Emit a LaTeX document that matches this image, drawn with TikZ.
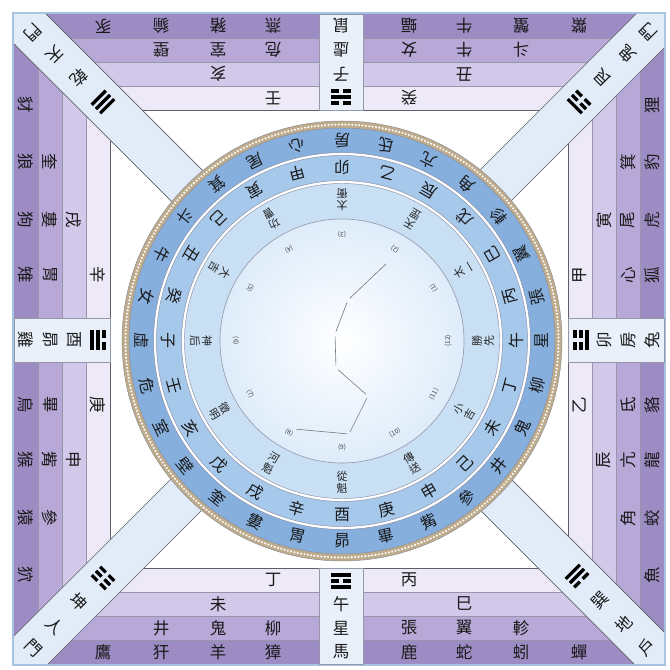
\documentclass[tikz,border=0pt]{standalone}
\usepackage{fontspec}
\newfontfamily\cjk{Noto Sans CJK TC}
\usetikzlibrary{calc}
\definecolor{rowA}{RGB}{237,233,246}
\definecolor{rowB}{RGB}{210,200,233}
\definecolor{rowC}{RGB}{184,168,216}
\definecolor{rowD}{RGB}{157,139,195}
\definecolor{stripc}{RGB}{226,236,248}
\definecolor{boxc}{RGB}{234,240,250}
\definecolor{ringO}{RGB}{134,175,221}
\definecolor{ringM}{RGB}{166,200,235}
\definecolor{ringI}{RGB}{200,223,244}
\definecolor{discc}{RGB}{222,236,250}
\definecolor{rimc}{RGB}{190,172,140}
\definecolor{edgec}{RGB}{95,95,105}
\definecolor{sepc}{RGB}{150,150,170}
\definecolor{framec}{RGB}{165,195,225}
\newcounter{lbl}
\newcommand{\lab}[4]{\stepcounter{lbl}\node[lab,rotate=#3] (t\arabic{lbl}) at (#1,{670-#2}) {#4};}
\newcommand{\tribar}[2]{\ifnum#2=1 \fill (-10,{#1-1.6}) rectangle (10,{#1+1.6});\else\fill (-10,{#1-1.6}) rectangle (-2,{#1+1.6});\fill (2,{#1-1.6}) rectangle (10,{#1+1.6});\fi}
\newcommand{\trig}[6]{\begin{scope}[shift={(#1,{670-#2})},rotate=#3]\tribar{-6}{#4}\tribar{0}{#5}\tribar{6}{#6}\end{scope}}
\tikzset{
  lab/.style={font=\cjk\fontsize{16.5}{16.5}\selectfont, inner sep=0pt, text=black!90},
  ringlab/.style={font=\cjk\fontsize{16}{16}\selectfont, inner sep=0pt, text=black!90},
  smalllab/.style={font=\cjk\fontsize{11}{12}\selectfont, inner sep=0pt, align=center, text=black!85},
  numlab/.style={font=\cjk\fontsize{6.5}{6.5}\selectfont, inner sep=0pt, text=black!75},
  rowline/.style={draw=sepc, line width=0.5pt},
  stripedge/.style={draw=edgec, line width=0.7pt},
  dipper/.style={draw=edgec!85, line width=0.6pt, shorten >=2.5pt, shorten <=2.5pt}
}
\begin{document}
\begin{tikzpicture}[x=1pt,y=1pt]
\useasboundingbox (0,0) rectangle (670,670);
\fill[white] (0,0) rectangle (670,670);
% square rings
\fill[rowD] (14,6) rectangle (664,656);
\fill[rowC] (38,30) rectangle (640,632);
\fill[rowB] (62,54) rectangle (616,608);
\fill[rowA] (86,78) rectangle (592,584);
\fill[white] (110,102) rectangle (568,560);
\draw[rowline] (38,30) rectangle (640,632);
\draw[rowline] (62,54) rectangle (616,608);
\draw[rowline] (86,78) rectangle (592,584);
\draw[edgec, line width=0.8pt] (110,102) rectangle (568,560);
\draw[framec, line width=1.6pt] (13,5) rectangle (665,657);
% diagonal strips
\fill[stripc] (14,{670-14}) -- (46,{670-14}) -- (356,{670-324}) -- (326,{670-356}) -- (14,{670-44}) -- cycle;
\fill[stripc] (636,{670-14}) -- (664,{670-14}) -- (664,{670-48}) -- (356,{670-356}) -- (326,{670-324}) -- cycle;
\fill[stripc] (14,{670-636}) -- (14,{670-664}) -- (48,{670-664}) -- (356,{670-356}) -- (326,{670-324}) -- cycle;
\fill[stripc] (634,{670-664}) -- (664,{670-664}) -- (664,{670-632}) -- (356,{670-324}) -- (326,{670-356}) -- cycle;
\draw[stripedge] (46,{670-14}) -- (356,{670-324}) (14,{670-44}) -- (326,{670-356});
\draw[stripedge] (636,{670-14}) -- (326,{670-324}) (664,{670-48}) -- (356,{670-356});
\draw[stripedge] (14,{670-636}) -- (326,{670-324}) (48,{670-664}) -- (356,{670-356});
\draw[stripedge] (634,{670-664}) -- (326,{670-356}) (664,{670-632}) -- (356,{670-324});
% centre strips
\filldraw[fill=boxc, draw=sepc, line width=0.6pt] (319,{670-110}) rectangle (363,{670-14});
\filldraw[fill=boxc, draw=sepc, line width=0.6pt] (319,{670-664}) rectangle (363,{670-568});
\filldraw[fill=boxc, draw=sepc, line width=0.6pt] (14,{670-362}) rectangle (110,{670-318});
\filldraw[fill=boxc, draw=sepc, line width=0.6pt] (568,{670-362}) rectangle (664,{670-318});
% ---------- band texts ----------
% top (north)
\foreach \x/\t in {103/豕,161/貐,218/豬,273/燕,341/鼠,409/蝠,464/牛,521/蟹,579/鱉}{\lab{\x}{26}{180}{\t}}
\foreach \x/\t in {161/壁,218/室,273/危,341/虛,409/女,464/牛,521/斗}{\lab{\x}{50}{180}{\t}}
\foreach \x/\t in {218/亥,341/子,464/丑}{\lab{\x}{74}{180}{\t}}
\foreach \x/\t in {273/壬,409/癸}{\lab{\x}{98}{180}{\t}}
\trig{341}{97}{180}{0}{1}{0}
% bottom (south)
\foreach \x/\t in {273/丁,409/丙}{\lab{\x}{580}{0}{\t}}
\trig{341}{581}{0}{1}{0}{1}
\foreach \x/\t in {218/未,341/午,464/巳}{\lab{\x}{604}{0}{\t}}
\foreach \x/\t in {161/井,218/鬼,273/柳,341/星,409/張,464/翼,521/軫}{\lab{\x}{628}{0}{\t}}
\foreach \x/\t in {103/鷹,161/犴,218/羊,273/獐,341/馬,409/鹿,464/蛇,521/蚓,579/蟬}{\lab{\x}{652}{0}{\t}}
% left (west)
\foreach \y/\t in {105/豺,162/狼,220/狗,275/雉,340/雞,405/烏,460/猴,518/猿,575/狖}{\lab{26}{\y}{-90}{\t}}
\foreach \y/\t in {162/奎,220/婁,275/胃,340/昴,405/畢,460/觜,518/參}{\lab{50}{\y}{-90}{\t}}
\foreach \y/\t in {220/戌,340/酉,460/申}{\lab{74}{\y}{-90}{\t}}
\foreach \y/\t in {275/辛,405/庚}{\lab{98}{\y}{-90}{\t}}
\trig{98}{340}{-90}{1}{1}{0}
% right (east)
\foreach \y/\t in {275/甲,405/乙}{\lab{580}{\y}{90}{\t}}
\trig{581}{340}{90}{1}{0}{0}
\foreach \y/\t in {220/寅,340/卯,460/辰}{\lab{604}{\y}{90}{\t}}
\foreach \y/\t in {162/箕,220/尾,275/心,340/房,405/氐,460/亢,518/角}{\lab{628}{\y}{90}{\t}}
\foreach \y/\t in {105/狸,162/豹,220/虎,275/狐,340/兔,405/貉,460/龍,518/蛟,575/魚}{\lab{652}{\y}{90}{\t}}
% diagonal strip texts
\lab{33}{32}{-135}{門}\lab{55}{54}{-135}{天}\lab{79}{78}{-135}{乾}
\trig{103}{102}{-135}{1}{1}{1}
\lab{649}{32}{135}{門}\lab{627}{54}{135}{鬼}\lab{603}{78}{135}{艮}
\trig{579}{102}{135}{0}{0}{1}
\lab{33}{648}{-45}{門}\lab{55}{626}{-45}{人}\lab{79}{602}{-45}{坤}
\trig{103}{578}{-45}{0}{0}{0}
\lab{647}{647}{45}{戶}\lab{624}{624}{45}{地}\lab{600}{600}{45}{巽}
\trig{577}{576}{45}{0}{1}{1}
% ---------- heaven plate ----------
\coordinate (C) at (342,329);
\fill[rimc] (C) circle (220);
\draw[white, line width=2.3pt, dash pattern=on 0pt off 3.4pt, line cap=round] (C) circle (216.5);
\fill[ringO] (C) circle (213);
\fill[ringM] (C) circle (187);
\fill[ringI] (C) circle (159);
\shade[inner color=white, outer color=discc] (C) circle (122);
\draw[edgec!70, line width=0.5pt] (C) circle (220) (C) circle (213);
\foreach \r in {187,159}{
  \draw[white, line width=2.4pt] (C) circle (\r);
  \draw[sepc, line width=0.45pt] (C) circle ({\r+1.5}) (C) circle ({\r-1.5});
}
\draw[sepc, line width=0.6pt] (C) circle (122);
% 28 lodges
\foreach \t [count=\i from 0] in {房,氐,亢,角,軫,翼,張,星,柳,鬼,井,參,觜,畢,昴,胃,婁,奎,壁,室,危,虛,女,牛,斗,箕,尾,心}{
  \path (C) ++({90-\i*360/28}:200) node[ringlab, rotate={180-\i*360/28}] (o\i) {\t};}
% stems and branches
\foreach \t [count=\i from 0] in {卯,乙,辰,戊,巳,丙,午,丁,未,己,申,庚,酉,辛,戌,戊,亥,壬,子,癸,丑,己,寅,甲}{
  \path (C) ++({90-\i*15}:174) node[ringlab, rotate={180-\i*15}] (m\i) {\t};}
% twelve generals
\foreach \a/\b [count=\i from 0] in {太/衝,天/罡,太/一,勝/先,小/吉,傳/送,從/魁,河/魁,徵/明,神/后,大/吉,功/曹}{
  \path (C) ++({90-\i*30}:141) node[smalllab, rotate={180-\i*30}] (g\i) {\a\\\b};}
% numbers on the inner circle
\foreach \n [count=\i from 0] in {1,2,3,4,5,6,7,8,9,10,11,12}{
  \path (C) ++({30+\i*30}:106) node[numlab, rotate={120+\i*30}] (k\i) {(\n)};}
% Big Dipper
\coordinate (s1) at (388,{670-262});
\coordinate (s2) at (348,{670-300});
\coordinate (s3) at (335,{670-334});
\coordinate (s4) at (336,{670-368});
\coordinate (s5) at (368,{670-396});
\coordinate (s6) at (349,{670-434});
\coordinate (s7) at (294,{670-429});
\draw[dipper] (s1) -- (s2);
\draw[dipper] (s2) -- (s3);
\draw[dipper] (s3) -- (s4);
\draw[dipper] (s4) -- (s5);
\draw[dipper] (s5) -- (s6);
\draw[dipper] (s6) -- (s7);
\end{tikzpicture}
\end{document}
